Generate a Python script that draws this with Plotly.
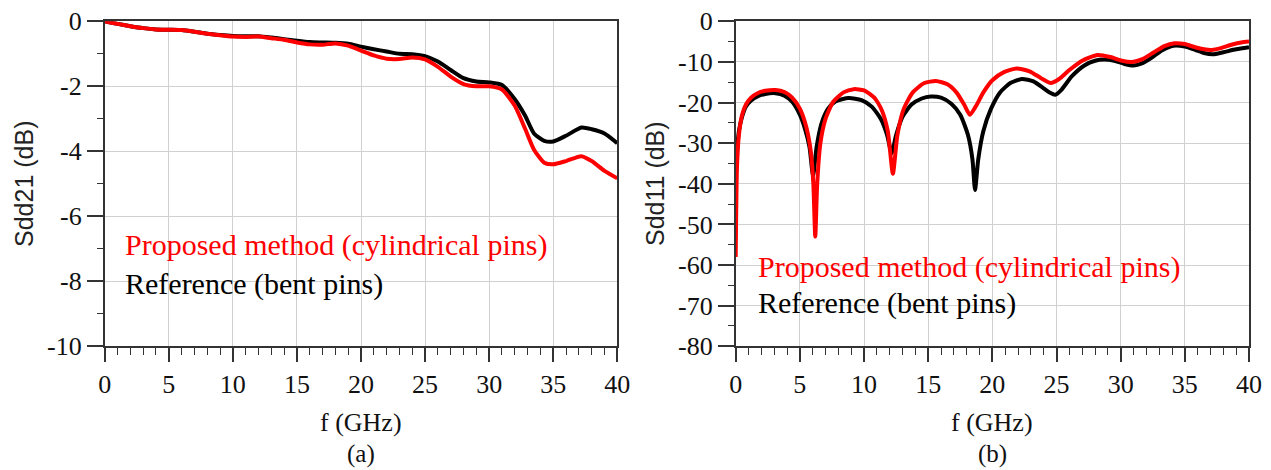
import plotly.graph_objects as go

# ---- Sdd21 (insertion loss), panel (a) ----
f_s21 = [0, 1, 2, 3, 4, 5, 6, 7, 8, 9, 10, 11, 12, 13, 14, 15, 16, 17, 18, 19,
         20, 21, 22, 23, 24, 25, 26, 27, 28, 29, 30, 31, 32, 32.8, 33.5, 34.3,
         35, 36, 37.2, 38, 39, 40]
s21_ref = [0, -0.08, -0.15, -0.21, -0.25, -0.26, -0.27, -0.32, -0.38, -0.42,
           -0.45, -0.46, -0.46, -0.5, -0.55, -0.6, -0.64, -0.65, -0.66, -0.69,
           -0.78, -0.86, -0.93, -1.0, -1.01, -1.07, -1.24, -1.5, -1.75, -1.85,
           -1.88, -1.96, -2.4, -2.9, -3.45, -3.68, -3.7, -3.52, -3.27, -3.32,
           -3.45, -3.75]
s21_prop = [0, -0.08, -0.15, -0.21, -0.25, -0.26, -0.27, -0.32, -0.38, -0.43,
            -0.47, -0.48, -0.47, -0.52, -0.57, -0.65, -0.71, -0.72, -0.68, -0.75,
            -0.9, -1.05, -1.15, -1.16, -1.11, -1.17, -1.4, -1.7, -1.93, -2.0,
            -2.0, -2.1, -2.6, -3.3, -3.95, -4.35, -4.4, -4.3, -4.15, -4.3,
            -4.6, -4.83]

# ---- Sdd11 (return loss), panel (b) ----
f_s11_ref = [0, 0.1, 0.25, 0.5, 0.8, 1.2, 1.7, 2.3, 3.1, 3.8, 4.4, 5.0, 5.4,
             5.75, 6.03, 6.3, 6.7, 7.2, 7.8, 8.8, 9.8, 10.6, 11.3, 11.8, 12.15,
             12.5, 13.0, 13.7, 14.5, 15.2, 16.0, 16.8, 17.5, 18.1, 18.45, 18.65,
             18.9, 19.3, 19.9, 20.6, 21.4, 22.3, 23.2, 24.0, 24.5, 24.9, 25.4,
             26.2, 27.2, 28.0, 28.7, 29.5, 30.3, 31.0, 31.7, 32.4, 33.2, 34.1,
             35.0, 35.8, 36.5, 37.2, 38.0, 39.0, 40.0]
s11_ref = [-38, -32, -27, -23.5, -21, -19.5, -18.5, -17.9, -17.7, -18.3, -19.8,
           -23, -26.5, -31, -38, -31, -25, -21.5, -19.7, -18.9, -19.4, -21, -24,
           -28, -32.5, -28, -23.5, -20.5, -19, -18.5, -18.8, -20.3, -23, -28,
           -34, -41.5, -34, -27, -21.5, -17.5, -15.2, -14.2, -14.8, -16.5,
           -17.6, -18.1, -16.8, -13.5, -10.8, -9.7, -9.4, -9.7, -10.5, -10.9,
           -10.3, -9.0, -7.2, -6.0, -6.2, -7.0, -7.8, -8.1, -7.6, -6.9, -6.4]
f_s11_prop = [0, 0.1, 0.25, 0.5, 0.8, 1.2, 1.7, 2.3, 3.1, 3.8, 4.4, 5.0, 5.5,
              5.85, 6.05, 6.2, 6.35, 6.6, 7.0, 7.6, 8.4, 9.2, 10.0, 10.8, 11.4,
              11.85, 12.25, 12.6, 13.1, 13.8, 14.7, 15.6, 16.5, 17.2, 17.8,
              18.25, 18.7, 19.3, 20.0, 20.9, 21.9, 22.9, 23.8, 24.55, 25.2,
              26.0, 27.0, 28.2, 29.2, 30.1, 30.9, 31.7, 32.6, 33.4, 34.2, 35.0,
              35.8, 36.5, 37.1, 37.8, 38.7, 39.4, 40.0]
s11_prop = [-58, -36, -28, -23, -20.5, -18.8, -17.7, -17.1, -16.9, -17.4, -18.8,
            -21.5, -26, -32, -40, -53, -40, -30, -24, -19.8, -17.5, -16.7, -17.0,
            -18.8, -22, -27, -37.5, -28, -21.5, -17.5, -15.2, -14.7, -15.5,
            -17.5, -20.5, -23, -21, -17.5, -14.5, -12.5, -11.6, -12.3, -14.0,
            -15.2, -14.2, -12.0, -9.7, -8.3, -8.8, -9.7, -10.0, -9.3, -7.6,
            -6.1, -5.4, -5.6, -6.4, -6.9, -7.05, -6.6, -5.7, -5.2, -5.0]

x_ticks = [0, 5, 10, 15, 20, 25, 30, 35, 40]
y_ticks_a = [0, -2, -4, -6, -8, -10]
y_ticks_b = [0, -10, -20, -30, -40, -50, -60, -70, -80]

legend_prop = "Proposed method (cylindrical pins)"
legend_ref = "Reference (bent pins)"

RED = "#ff0000"
BLACK = "#000000"
SERIF = "Liberation Serif, Times New Roman, serif"
SANS = "Liberation Sans, Arial, sans-serif"
W, H = 1271, 470

fig = go.Figure()
for xa, ya, fx_r, yr, fx_p, yp in [
    ("x", "y", f_s21, s21_ref, f_s21, s21_prop),
    ("x2", "y2", f_s11_ref, s11_ref, f_s11_prop, s11_prop),
]:
    fig.add_trace(go.Scatter(x=fx_r, y=yr, mode="lines", xaxis=xa, yaxis=ya,
                             line=dict(color=BLACK, width=4, shape="spline",
                                       smoothing=0.6),
                             showlegend=False))
    fig.add_trace(go.Scatter(x=fx_p, y=yp, mode="lines", xaxis=xa, yaxis=ya,
                             line=dict(color=RED, width=4, shape="spline",
                                       smoothing=0.6),
                             showlegend=False))


def xaxis_style(domain, anchor):
    return dict(domain=domain, anchor=anchor, range=[0, 40], automargin=False,
                tickvals=x_ticks, ticks="outside", ticklen=14, tickwidth=1.5,
                tickcolor="#333", showline=True, linecolor="#333", linewidth=1.5,
                mirror=True, showgrid=True, gridcolor="#d0d0d0", gridwidth=1.3,
                zeroline=False,
                minor=dict(dtick=1, ticks="outside", ticklen=7, tickwidth=1.2,
                           tickcolor="#333", showgrid=False),
                tickfont=dict(family=SERIF, size=26, color="#111"))


def yaxis_style(domain, anchor, rng, vals, minor_dt):
    return dict(domain=domain, anchor=anchor, range=rng, tickvals=vals,
                ticktext=[str(v) for v in vals], automargin=False,
                ticks="outside", ticklen=16, tickwidth=1.5, tickcolor="#333",
                showline=True, linecolor="#333", linewidth=1.5, mirror=True,
                showgrid=True, gridcolor="#d0d0d0", gridwidth=1.3,
                zeroline=False,
                minor=dict(dtick=minor_dt, ticks="outside", ticklen=6,
                           tickwidth=1.2, tickcolor="#333", showgrid=False),
                tickfont=dict(family=SERIF, size=26, color="#111"))


yd = [1 - 346.3 / H, 1 - 21.3 / H]
xd_a = [104.7 / W, 617.3 / W]
xd_b = [735.7 / W, 1249.0 / W]

fig.update_layout(
    width=W, height=H, margin=dict(l=0, r=0, t=0, b=0),
    paper_bgcolor="white", plot_bgcolor="white",
    xaxis=xaxis_style(xd_a, "y"),
    yaxis=yaxis_style(yd, "x", [-10, 0], y_ticks_a, 1),
    xaxis2=xaxis_style(xd_b, "y2"),
    yaxis2=yaxis_style(yd, "x2", [-80, 0], y_ticks_b, 5),
)

# Axis titles
y_mid = 1 - 184 / H
for x, t in [(24 / W, "Sdd21 (dB)"), (655 / W, "Sdd11 (dB)")]:
    fig.add_annotation(x=x, y=y_mid, xref="paper", yref="paper", text=t,
                       textangle=-90, showarrow=False, xanchor="center",
                       yanchor="middle",
                       font=dict(family=SANS, size=25, color="#222"))

for dom, cap in [(xd_a, "(a)"), (xd_b, "(b)")]:
    xc = (dom[0] + dom[1]) / 2
    fig.add_annotation(x=xc, y=1 - 422 / H, xref="paper", yref="paper",
                       text="f (GHz)", showarrow=False, xanchor="center",
                       yanchor="middle",
                       font=dict(family=SERIF, size=26, color="#111"))
    fig.add_annotation(x=xc, y=1 - 454 / H, xref="paper", yref="paper",
                       text=cap, showarrow=False, xanchor="center",
                       yanchor="middle",
                       font=dict(family=SERIF, size=25, color="#111"))

# In-plot legend text
notes = [
    (123 / W, 1 - 245 / H, legend_prop, RED),
    (123 / W, 1 - 284 / H, legend_ref, BLACK),
    (756 / W, 1 - 267 / H, legend_prop, RED),
    (756 / W, 1 - 303 / H, legend_ref, BLACK),
]
for x, y, t, c in notes:
    fig.add_annotation(x=x, y=y, xref="paper", yref="paper", text=t,
                       showarrow=False, xanchor="left", yanchor="middle",
                       font=dict(family=SERIF, size=30, color=c))

fig.write_html("out.html")
